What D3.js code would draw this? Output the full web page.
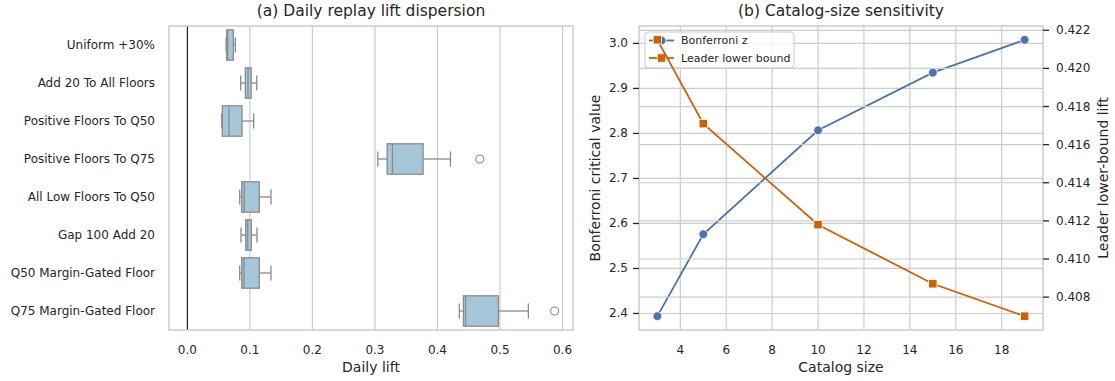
<!DOCTYPE html>
<html>
<head>
<meta charset="utf-8">
<script src="https://cdn.jsdelivr.net/npm/d3@7/dist/d3.min.js"></script>
<style>
  body { margin: 0; background: #fff; }
  svg { display: block; font-family: "DejaVu Sans", sans-serif; }
</style>
</head>
<body>
<svg id="chart" width="1115" height="381"></svg>
<script>
// ---- panel (a) data: box stats
const policies = [
  "Uniform +30%", "Add 20 To All Floors", "Positive Floors To Q50",
  "Positive Floors To Q75", "All Low Floors To Q50", "Gap 100 Add 20",
  "Q50 Margin-Gated Floor", "Q75 Margin-Gated Floor"
];
const whiskerLow  = [0.062, 0.0853, 0.055, 0.3046, 0.0837, 0.0858, 0.0837, 0.435];
const boxQ1       = [0.063, 0.0927, 0.0559, 0.3195, 0.0869, 0.0933, 0.0869, 0.4415];
const boxMedian   = [0.0645, 0.097, 0.0666, 0.328, 0.091, 0.0965, 0.0905, 0.445];
const boxQ3       = [0.0735, 0.102, 0.0874, 0.377, 0.115, 0.1022, 0.115, 0.4974];
const whiskerHigh = [0.0767, 0.111, 0.106, 0.4208, 0.1337, 0.1113, 0.1337, 0.5454];
const outliers    = [[], [], [], [0.4676], [], [], [], [0.5874]];
const liftTicks   = [0.0, 0.1, 0.2, 0.3, 0.4, 0.5, 0.6];

// ---- panel (b) data
const catalogSizes = [3, 5, 10, 15, 19];
const bonferroniZ  = [2.394, 2.576, 2.807, 2.935, 3.008];
const leaderLower  = [0.4215, 0.4171, 0.4118, 0.4087, 0.4070];
const sizeTicks    = [4, 6, 8, 10, 12, 14, 16, 18];
const zTicks       = [2.4, 2.5, 2.6, 2.7, 2.8, 2.9, 3.0];
const lowerTicks   = [0.408, 0.410, 0.412, 0.414, 0.416, 0.418, 0.420, 0.422];

const svg = d3.select("#chart");
const textColor = "#262626";
const gridColor = "#cccccc";
const blue = "#4c72b0";
const orange = "#d55e00";
const tickSize = 12, labelSize = 14, titleSize = 15.5;

// pad an extent by 5% like matplotlib does
function padded(lo, hi) {
  const p = (hi - lo) * 0.05;
  return [lo - p, hi + p];
}

// =============== panel (a) ===============
const A = { left: 169, right: 573, top: 26, bottom: 330 };
const allLift = whiskerLow.concat(whiskerHigh, outliers.flat(), [0]);
const xA = d3.scaleLinear()
  .domain(padded(d3.min(allLift), d3.max(allLift)))
  .range([A.left, A.right]);
const yA = d3.scaleBand().domain(policies).range([A.top, A.bottom]).padding(0);

const gA = svg.append("g");

// vertical grid
gA.append("g").selectAll("line").data(liftTicks).join("line")
  .attr("x1", d => xA(d)).attr("x2", d => xA(d))
  .attr("y1", A.top).attr("y2", A.bottom)
  .attr("stroke", gridColor).attr("stroke-width", 1.2);

// zero reference line
gA.append("line")
  .attr("x1", xA(0)).attr("x2", xA(0))
  .attr("y1", A.top).attr("y2", A.bottom)
  .attr("stroke", "#000").attr("stroke-width", 1);

const boxW = yA.bandwidth() * 0.8;
const capW = boxW * 0.5;
const edge = "#8a8a8a";
const rows = policies.map((p, i) => ({
  p, lo: whiskerLow[i], q1: boxQ1[i], med: boxMedian[i], q3: boxQ3[i], hi: whiskerHigh[i], out: outliers[i]
}));

const box = gA.append("g").selectAll("g").data(rows).join("g")
  .attr("transform", d => `translate(0,${yA(d.p) + yA.bandwidth() / 2})`);

// whiskers
box.append("line")
  .attr("x1", d => xA(d.lo)).attr("x2", d => xA(d.q1))
  .attr("stroke", edge).attr("stroke-width", 1.3);
box.append("line")
  .attr("x1", d => xA(d.q3)).attr("x2", d => xA(d.hi))
  .attr("stroke", edge).attr("stroke-width", 1.3);
// caps
box.append("line")
  .attr("x1", d => xA(d.lo)).attr("x2", d => xA(d.lo))
  .attr("y1", -capW / 2).attr("y2", capW / 2)
  .attr("stroke", edge).attr("stroke-width", 1.3);
box.append("line")
  .attr("x1", d => xA(d.hi)).attr("x2", d => xA(d.hi))
  .attr("y1", -capW / 2).attr("y2", capW / 2)
  .attr("stroke", edge).attr("stroke-width", 1.3);
// the box
box.append("rect")
  .attr("x", d => xA(d.q1)).attr("width", d => xA(d.q3) - xA(d.q1))
  .attr("y", -boxW / 2).attr("height", boxW)
  .attr("fill", "#a6c7da").attr("stroke", edge).attr("stroke-width", 1.3);
// median
box.append("line")
  .attr("x1", d => xA(d.med)).attr("x2", d => xA(d.med))
  .attr("y1", -boxW / 2).attr("y2", boxW / 2)
  .attr("stroke", edge).attr("stroke-width", 1.3);
// fliers
box.selectAll("circle").data(d => d.out).join("circle")
  .attr("cx", d => xA(d)).attr("r", 4)
  .attr("fill", "none").attr("stroke", edge).attr("stroke-width", 1.1);

// frame
gA.append("rect")
  .attr("x", A.left).attr("y", A.top)
  .attr("width", A.right - A.left).attr("height", A.bottom - A.top)
  .attr("fill", "none").attr("stroke", gridColor).attr("stroke-width", 1.5);

// tick labels
gA.append("g").selectAll("text").data(liftTicks).join("text")
  .attr("x", d => xA(d)).attr("y", 350)
  .attr("text-anchor", "middle").attr("dominant-baseline", "central")
  .attr("font-size", tickSize).attr("fill", textColor)
  .text(d3.format(".1f"));
gA.append("g").selectAll("text").data(policies).join("text")
  .attr("x", 155).attr("y", d => yA(d) + yA.bandwidth() / 2)
  .attr("text-anchor", "end").attr("dominant-baseline", "central")
  .attr("font-size", tickSize).attr("fill", textColor)
  .text(d => d);

gA.append("text")
  .attr("x", (A.left + A.right) / 2).attr("y", 367)
  .attr("text-anchor", "middle").attr("dominant-baseline", "central")
  .attr("font-size", labelSize).attr("fill", textColor)
  .text("Daily lift");
gA.append("text")
  .attr("x", (A.left + A.right) / 2).attr("y", 11)
  .attr("text-anchor", "middle").attr("dominant-baseline", "central")
  .attr("font-size", titleSize).attr("fill", textColor)
  .text("(a) Daily replay lift dispersion");

// =============== panel (b) ===============
const B = { left: 639, right: 1043, top: 26, bottom: 330 };
const xB = d3.scaleLinear().domain(padded(...d3.extent(catalogSizes))).range([B.left, B.right]);
const yZ = d3.scaleLinear().domain(padded(...d3.extent(bonferroniZ))).range([B.bottom, B.top]);
const yL = d3.scaleLinear().domain(padded(...d3.extent(leaderLower))).range([B.bottom, B.top]);

const gB = svg.append("g");

// ax1 grid
gB.append("g").selectAll("line").data(sizeTicks).join("line")
  .attr("x1", d => xB(d)).attr("x2", d => xB(d))
  .attr("y1", B.top).attr("y2", B.bottom)
  .attr("stroke", gridColor).attr("stroke-width", 1.2);
gB.append("g").selectAll("line").data(zTicks).join("line")
  .attr("x1", B.left).attr("x2", B.right)
  .attr("y1", d => yZ(d)).attr("y2", d => yZ(d))
  .attr("stroke", gridColor).attr("stroke-width", 1.2);

// Bonferroni z line
const zPts = catalogSizes.map((k, i) => [k, bonferroniZ[i]]);
gB.append("path")
  .datum(zPts)
  .attr("d", d3.line().x(d => xB(d[0])).y(d => yZ(d[1])))
  .attr("fill", "none").attr("stroke", blue).attr("stroke-width", 1.8);
gB.append("g").selectAll("circle").data(zPts).join("circle")
  .attr("cx", d => xB(d[0])).attr("cy", d => yZ(d[1])).attr("r", 4.4)
  .attr("fill", blue).attr("stroke", "#fff").attr("stroke-width", 0.8);

// legend (lives on ax1, so ax2 draws over it)
const leg = gB.append("g").attr("transform", "translate(645,32)");
leg.append("rect")
  .attr("width", 149).attr("height", 36).attr("rx", 3)
  .attr("fill", "#fff").attr("fill-opacity", 0.8)
  .attr("stroke", gridColor).attr("stroke-width", 1);
const legItems = [
  { label: "Bonferroni z", color: blue, shape: "circle" },
  { label: "Leader lower bound", color: orange, shape: "square" }
];
const li = leg.selectAll("g").data(legItems).join("g")
  .attr("transform", (d, i) => `translate(0,${8.5 + i * 17.5})`);
li.append("line").attr("x1", 4).attr("x2", 29)
  .attr("stroke", d => d.color).attr("stroke-width", 1.8);
li.filter(d => d.shape === "circle").append("circle")
  .attr("cx", 16.5).attr("r", 4.4).attr("fill", d => d.color)
  .attr("stroke", "#fff").attr("stroke-width", 0.8);
li.filter(d => d.shape === "square").append("rect")
  .attr("x", 12.3).attr("y", -4.2).attr("width", 8.4).attr("height", 8.4)
  .attr("fill", d => d.color).attr("stroke", "#fff").attr("stroke-width", 0.8);
li.append("text").attr("x", 36).attr("dominant-baseline", "central")
  .attr("font-size", 11).attr("fill", textColor)
  .text(d => d.label);

// ax2 grid
gB.append("g").selectAll("line").data(lowerTicks).join("line")
  .attr("x1", B.left).attr("x2", B.right)
  .attr("y1", d => yL(d)).attr("y2", d => yL(d))
  .attr("stroke", gridColor).attr("stroke-width", 1.2);

// leader lower bound line
const leaderPts = catalogSizes.map((k, i) => [k, leaderLower[i]]);
gB.append("path")
  .datum(leaderPts)
  .attr("d", d3.line().x(d => xB(d[0])).y(d => yL(d[1])))
  .attr("fill", "none").attr("stroke", orange).attr("stroke-width", 1.8);
gB.append("g").selectAll("rect").data(leaderPts).join("rect")
  .attr("x", d => xB(d[0]) - 4.2).attr("y", d => yL(d[1]) - 4.2)
  .attr("width", 8.4).attr("height", 8.4)
  .attr("fill", orange).attr("stroke", "#fff").attr("stroke-width", 0.8);

// frame
gB.append("rect")
  .attr("x", B.left).attr("y", B.top)
  .attr("width", B.right - B.left).attr("height", B.bottom - B.top)
  .attr("fill", "none").attr("stroke", gridColor).attr("stroke-width", 1.5);

// x tick labels
gB.append("g").selectAll("text").data(sizeTicks).join("text")
  .attr("x", d => xB(d)).attr("y", 350)
  .attr("text-anchor", "middle").attr("dominant-baseline", "central")
  .attr("font-size", tickSize).attr("fill", textColor)
  .text(d => d);

// left y ticks
const zt = gB.append("g").selectAll("g").data(zTicks).join("g")
  .attr("transform", d => `translate(${B.left},${yZ(d)})`);
zt.append("line").attr("x1", -6).attr("x2", 0)
  .attr("stroke", textColor).attr("stroke-width", 1.3);
zt.append("text").attr("x", -11).attr("text-anchor", "end").attr("dominant-baseline", "central")
  .attr("font-size", tickSize).attr("fill", textColor)
  .text(d3.format(".1f"));

// right y ticks
const lt = gB.append("g").selectAll("g").data(lowerTicks).join("g")
  .attr("transform", d => `translate(${B.right},${yL(d)})`);
lt.append("line").attr("x1", 0).attr("x2", 6)
  .attr("stroke", textColor).attr("stroke-width", 1.3);
lt.append("text").attr("x", 13).attr("dominant-baseline", "central")
  .attr("font-size", tickSize).attr("fill", textColor)
  .text(d3.format(".3f"));

// labels
gB.append("text")
  .attr("x", (B.left + B.right) / 2).attr("y", 367)
  .attr("text-anchor", "middle").attr("dominant-baseline", "central")
  .attr("font-size", labelSize).attr("fill", textColor)
  .text("Catalog size");
gB.append("text")
  .attr("transform", `translate(595,${(B.top + B.bottom) / 2}) rotate(-90)`)
  .attr("text-anchor", "middle").attr("dominant-baseline", "central")
  .attr("font-size", labelSize).attr("fill", textColor)
  .text("Bonferroni critical value");
gB.append("text")
  .attr("transform", `translate(1103,${(B.top + B.bottom) / 2}) rotate(-90)`)
  .attr("text-anchor", "middle").attr("dominant-baseline", "central")
  .attr("font-size", labelSize).attr("fill", textColor)
  .text("Leader lower-bound lift");
gB.append("text")
  .attr("x", (B.left + B.right) / 2).attr("y", 11)
  .attr("text-anchor", "middle").attr("dominant-baseline", "central")
  .attr("font-size", titleSize).attr("fill", textColor)
  .text("(b) Catalog-size sensitivity");
</script>
</body>
</html>
